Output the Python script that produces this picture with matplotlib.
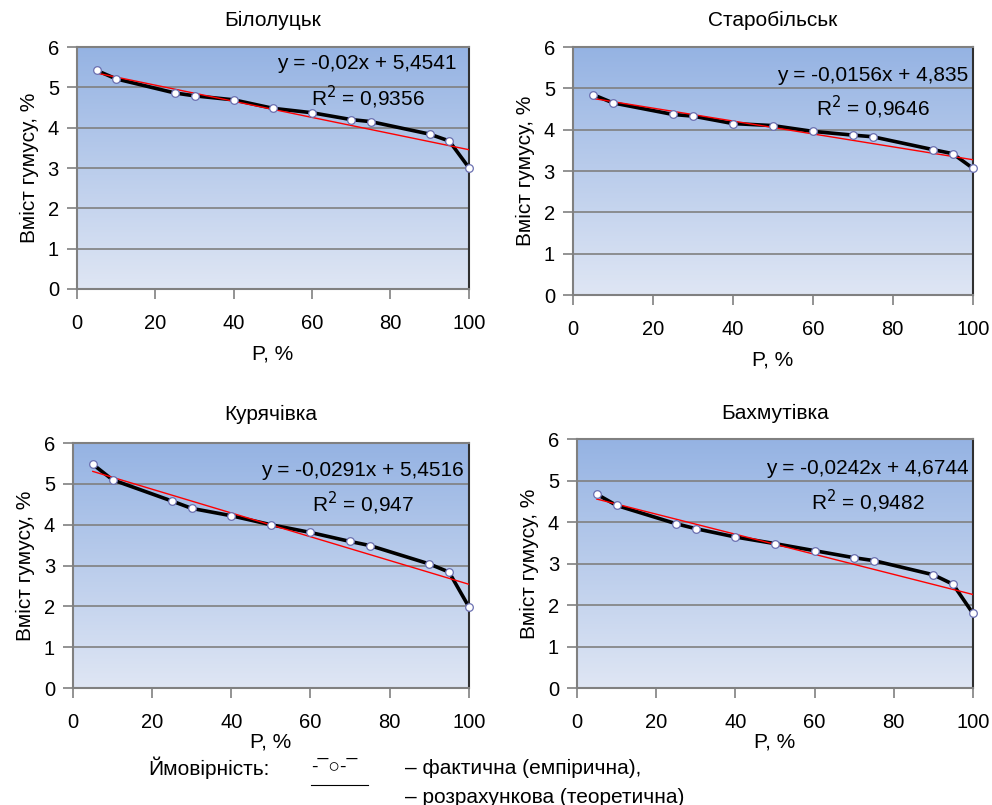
import numpy as np
import matplotlib
matplotlib.use('Agg')
import matplotlib.pyplot as plt
from matplotlib.lines import Line2D
from matplotlib.colors import LinearSegmentedColormap

plt.rcParams['font.family'] = ['Liberation Sans', 'DejaVu Sans']

# Probability, % (same for every site)
p = [5, 10, 25, 30, 40, 50, 60, 70, 75, 90, 95, 100]

# Humus content, %
bilolutsk = [5.42, 5.21, 4.86, 4.79, 4.69, 4.48, 4.37, 4.20, 4.15, 3.84, 3.67, 3.01]
starobilsk = [4.85, 4.65, 4.37, 4.33, 4.15, 4.10, 3.96, 3.87, 3.83, 3.52, 3.42, 3.07]
kuriachivka = [5.48, 5.10, 4.58, 4.40, 4.22, 4.00, 3.81, 3.59, 3.49, 3.04, 2.84, 1.99]
bakhmutivka = [4.67, 4.40, 3.96, 3.84, 3.64, 3.48, 3.31, 3.14, 3.07, 2.73, 2.50, 1.80]

titles = ['Білолуцьк', 'Старобільськ', 'Курячівка', 'Бахмутівка']
slopes = [-0.02, -0.0156, -0.0291, -0.0242]
intercepts = [5.4541, 4.835, 5.4516, 4.6744]
slope_txt = ['-0,02', '-0,0156', '-0,0291', '-0,0242']
icpt_txt = ['5,4541', '4,835', '5,4516', '4,6744']
r2_txt = ['0,9356', '0,9646', '0,947', '0,9482']

series = [bilolutsk, starobilsk, kuriachivka, bakhmutivka]

# axes boxes in figure fractions
boxes = [[0.0776, 0.641, 0.395, 0.3006],
         [0.5776, 0.6335, 0.403, 0.308],
         [0.0736, 0.1453, 0.399, 0.3043],
         [0.5817, 0.1453, 0.399, 0.3093]]
eq_pos = [(0.969, 0.93), (0.99, 0.887), (0.987, 0.89), (0.99, 0.88)]
r2_pos = [(0.742, 0.793), (0.75, 0.758), (0.732, 0.755), (0.735, 0.751)]
title_pad = [15, 15, 16.5, 14.5]

grad = LinearSegmentedColormap.from_list('bg', ['#dfe6f4', '#95b3e3'])
grey = '#808080'

fig = plt.figure(figsize=(9.92, 8.05), dpi=100)

for i in range(4):
    ax = fig.add_axes(boxes[i])
    ax.set_xlim(0, 100)
    ax.set_ylim(0, 6)

    # gradient background
    ax.imshow(np.linspace(0, 1, 256).reshape(-1, 1), cmap=grad, origin='lower',
              extent=[0, 100, 0, 6], aspect='auto', zorder=0)
    for yv in range(1, 7):
        ax.axhline(yv, color=grey, lw=1.2, zorder=1)

    # empirical curve
    ax.plot(p, series[i], color='black', lw=2.6, zorder=2, clip_on=False)
    # calculated (trend) line
    xt = np.array([p[0], p[-1]])
    ax.plot(xt, slopes[i] * xt + intercepts[i], color='red', lw=1.0, zorder=3)
    ax.plot(p, series[i], ls='none', marker='o', ms=5.5, mfc='white',
            mec='#6a6fb0', mew=0.9, zorder=5, clip_on=False)

    ax.text(eq_pos[i][0], eq_pos[i][1],
            'y = %sx + %s' % (slope_txt[i], icpt_txt[i]),
            transform=ax.transAxes, ha='right', va='center', fontsize=15)
    ax.text(r2_pos[i][0], r2_pos[i][1], 'R$^2$ = %s' % r2_txt[i],
            transform=ax.transAxes, ha='center', va='center', fontsize=15)

    ax.set_xticks([0, 20, 40, 60, 80, 100])
    ax.set_yticks(range(0, 7))
    ax.tick_params(axis='both', labelsize=14.5, color=grey, width=1.2, length=7)
    ax.tick_params(axis='y', pad=6)
    ax.tick_params(axis='x', pad=11)
    for s in ['left', 'bottom', 'top']:
        ax.spines[s].set_color(grey)
        ax.spines[s].set_linewidth(1.5)
    ax.spines['right'].set_color('#303030')
    ax.spines['right'].set_linewidth(1.5)

    ax.set_title(titles[i], fontsize=15, pad=title_pad[i])
    ax.set_ylabel('Вміст гумусу, %', fontsize=15, labelpad=6)
    ax.set_xlabel('P, %', fontsize=15, labelpad=8 if i < 2 else 0)

# legend at the bottom
fig.text(148 / 992, 1 - 768 / 805, 'Ймовірність:', fontsize=15, va='center')
fig.text(311 / 992, 1 - 767 / 805, '-¯○-¯', fontsize=14, va='center',
         family=['Liberation Sans', 'DejaVu Sans'])
fig.text(405 / 992, 1 - 768 / 805, '– фактична (емпірична),', fontsize=15, va='center')
fig.add_artist(Line2D([311 / 992, 368 / 992], [1 - 785 / 805, 1 - 785 / 805],
                      color='black', lw=0.8, transform=fig.transFigure))
fig.text(405 / 992, 1 - 797 / 805, '– розрахункова (теоретична)', fontsize=15, va='center')

fig.savefig('out.png', dpi=100)
